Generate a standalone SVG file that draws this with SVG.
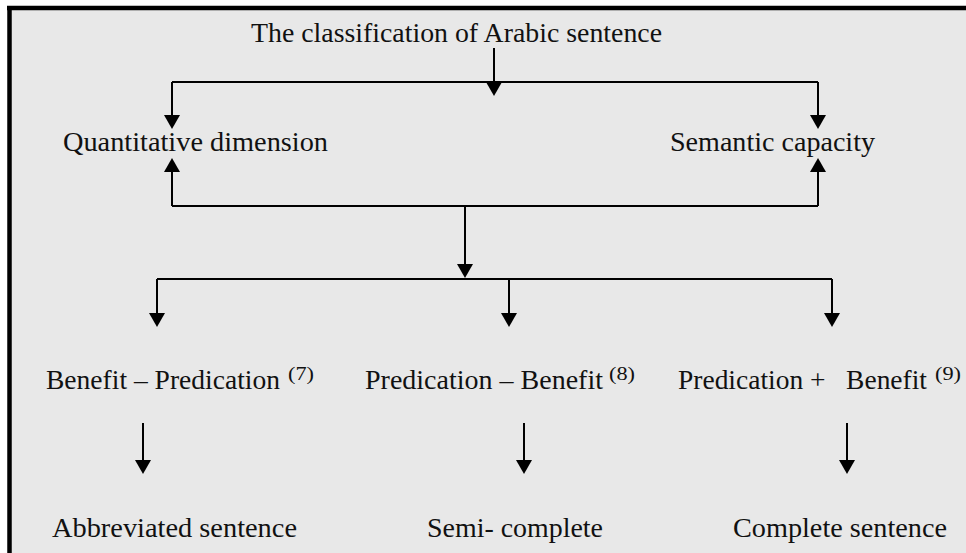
<svg xmlns="http://www.w3.org/2000/svg" width="966" height="553" viewBox="0 0 966 553">
<style>
.t{font-family:"Liberation Serif","Times New Roman",serif;font-size:27px;fill:#111}
.s{font-family:"Liberation Serif","Times New Roman",serif;font-size:18px;fill:#111}
.c{fill:none;stroke:#000;stroke-width:2}
</style>
<defs>
<marker id="ah" viewBox="0 0 14 16" refX="12" refY="8" markerWidth="14" markerHeight="16" markerUnits="userSpaceOnUse" orient="auto">
<path d="M0,0 L14,8 L0,16 Z" fill="#000"/>
</marker>
</defs>
<rect x="10" y="8" width="956" height="545" fill="#e8e8e8"/>
<path d="M7,8 H966 M9.5,6 V553" stroke="#000" stroke-width="4.5" fill="none"/>
<g id="connectors">
<path class="c" d="M494,48 V94" marker-end="url(#ah)"/>
<path class="c" d="M172,82 H818"/>
<path class="c" d="M172,82 V127" marker-end="url(#ah)"/>
<path class="c" d="M818,82 V127" marker-end="url(#ah)"/>
<path class="c" d="M172,206 H818"/>
<path class="c" d="M172,206 V160" marker-end="url(#ah)"/>
<path class="c" d="M818,206 V160" marker-end="url(#ah)"/>
<path class="c" d="M465,206 V276" marker-end="url(#ah)"/>
<path class="c" d="M157,279 H832"/>
<path class="c" d="M157,279 V325" marker-end="url(#ah)"/>
<path class="c" d="M509,279 V325" marker-end="url(#ah)"/>
<path class="c" d="M832,279 V325" marker-end="url(#ah)"/>
<path class="c" d="M143,423 V472" marker-end="url(#ah)"/>
<path class="c" d="M524,423 V472" marker-end="url(#ah)"/>
<path class="c" d="M847,423 V472" marker-end="url(#ah)"/>
</g>
<g id="n-title"><text class="t" x="251" y="42" textLength="411" lengthAdjust="spacingAndGlyphs">The classification of Arabic sentence</text></g>
<g id="n-quant"><text class="t" x="63" y="151" textLength="265" lengthAdjust="spacingAndGlyphs">Quantitative dimension</text></g>
<g id="n-sem"><text class="t" x="670" y="151" textLength="205" lengthAdjust="spacingAndGlyphs">Semantic capacity</text></g>
<g id="n-bp"><text class="t" x="46" y="389" textLength="234" lengthAdjust="spacingAndGlyphs">Benefit – Predication</text><text class="s" x="288" y="380" textLength="26" lengthAdjust="spacingAndGlyphs">(7)</text></g>
<g id="n-pb"><text class="t" x="365" y="389" textLength="238" lengthAdjust="spacingAndGlyphs">Predication – Benefit</text><text class="s" x="609" y="380" textLength="26" lengthAdjust="spacingAndGlyphs">(8)</text></g>
<g id="n-ppb"><text class="t" x="678" y="389" textLength="249" lengthAdjust="spacingAndGlyphs" xml:space="preserve">Predication +   Benefit</text><text class="s" x="935" y="380" textLength="26" lengthAdjust="spacingAndGlyphs">(9)</text></g>
<g id="n-abbr"><text class="t" x="52" y="537" textLength="245" lengthAdjust="spacingAndGlyphs">Abbreviated sentence</text></g>
<g id="n-semi"><text class="t" x="427" y="537" textLength="176" lengthAdjust="spacingAndGlyphs">Semi- complete</text></g>
<g id="n-comp"><text class="t" x="733" y="537" textLength="214" lengthAdjust="spacingAndGlyphs">Complete sentence</text></g>
</svg>
